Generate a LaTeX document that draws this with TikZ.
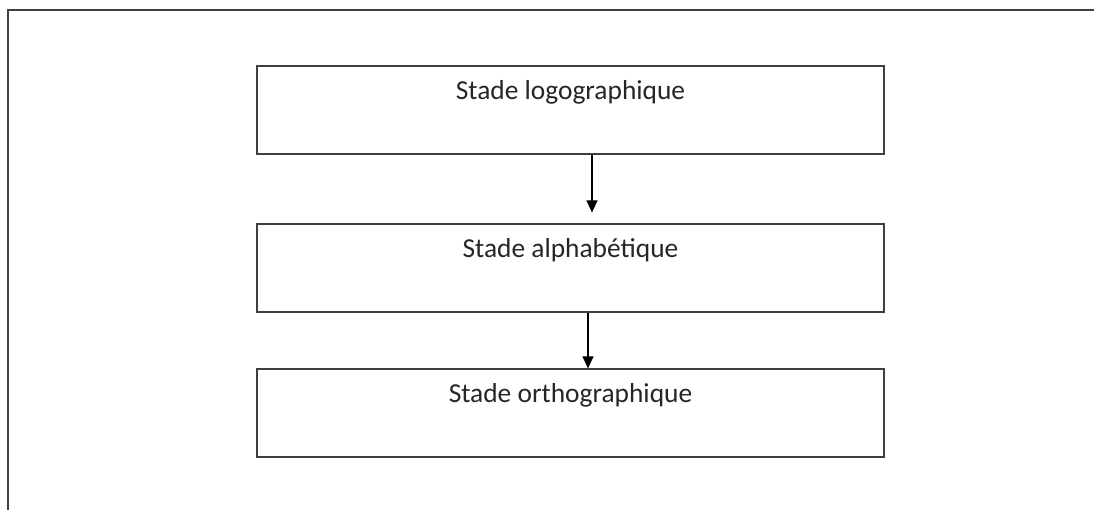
\documentclass[tikz,border=0pt]{standalone}
\usepackage{fontspec}
\setmainfont{Carlito}
\usetikzlibrary{arrows.meta}

\begin{document}
\begin{tikzpicture}[font=\fontsize{15.6}{19}\selectfont,>={Triangle[length=0.24cm,width=0.22cm]},x=1cm,y=1cm]
    \tikzset{
        stage/.style={
            draw=black!75,line width=0.7pt,
            minimum width=12.54cm,inner sep=0pt,
            text height=0.68cm,text depth=1.08cm,
            text=black!85,align=center
        },
        frame/.style={draw=black!75,line width=0.8pt},
        flow/.style={->,line width=0.7pt,black}
    }

    \useasboundingbox (0,0) rectangle (21.88,10.2);
    \draw[frame] (0.16,0) -- (0.16,10.0) -- (21.88,10.0);

    \node[stage] (logo) at (11.41,8.00) {Stade logographique};
    \node[stage] (alpha) at (11.41,4.84) {Stade alphabétique};
    \node[stage] (ortho) at (11.41,1.94) {Stade orthographique};

    \draw[flow] ([xshift=0.43cm]logo.south) -- ([xshift=0.43cm,yshift=0.22cm]alpha.north);
    \draw[flow] ([xshift=0.35cm]alpha.south) -- ([xshift=0.35cm]ortho.north);
\end{tikzpicture}
\end{document}
